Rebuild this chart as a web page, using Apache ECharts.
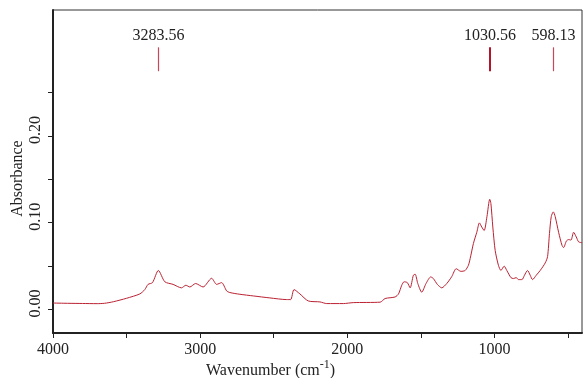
<!DOCTYPE html>
<html>
<head>
<meta charset="utf-8">
<script src="https://cdn.jsdelivr.net/npm/echarts@6/dist/echarts.min.js"></script>
<style>
html,body{margin:0;padding:0;background:#fff;}
#chart{width:583px;height:378px;}
</style>
</head>
<body>
<div id="chart"></div>
<script>
// Spectrum data (wavenumber in cm-1, absorbance)
var wavenumbers = [4000,3900,3800,3700,3650,3590,3500,3410,3376,3354,3324,3284,3240,3184,3127,3097,3070,3031,2980,2922,2888,2854,2820,2798,2730,2639,2526,2412,2385,2362,2322,2265,2186,2140,2027,1959,1777,1743,1675,1652,1630,1614,1592,1573,1551,1539,1521,1494,1465,1433,1415,1388,1358,1324,1290,1260,1228,1199,1177,1165,1143,1120,1102,1086,1070,1051,1032,1024,1011,995,973,956,934,916,888,871,852,837,813,796,775,757,741,716,689,655,639,626,614,600,587,564,541,530,511,496,480,462,444,428,405];
var absorbance = [0.0075,0.0072,0.0070,0.0068,0.0072,0.0090,0.0130,0.0180,0.023,0.029,0.031,0.045,0.032,0.029,0.025,0.028,0.026,0.030,0.026,0.036,0.029,0.031,0.0215,0.0196,0.0176,0.0157,0.0134,0.0115,0.0115,0.023,0.018,0.0099,0.0088,0.0069,0.0069,0.008,0.0085,0.0127,0.0145,0.018,0.028,0.032,0.031,0.025,0.0395,0.0407,0.030,0.020,0.030,0.0376,0.0357,0.029,0.025,0.030,0.038,0.047,0.044,0.045,0.051,0.0587,0.076,0.089,0.0998,0.095,0.091,0.107,0.127,0.122,0.095,0.068,0.051,0.045,0.050,0.045,0.0368,0.0357,0.0368,0.0345,0.0345,0.0395,0.045,0.0395,0.0345,0.0395,0.045,0.0537,0.061,0.0876,0.107,0.1125,0.107,0.089,0.074,0.0714,0.079,0.0806,0.080,0.089,0.0836,0.078,0.077];

// Peak annotations
var peakPositions = [3283.56, 1030.56, 598.13];
var peakLabels = ['3283.56', '1030.56', '598.13'];
var peakMarkBottom = 0.2745;
var peakMarkTop = 0.302;

// Axis ticks / labels
var xTickValues = [4000,3500,3000,2500,2000,1500,1000,500];
var xLabelValues = [4000,3000,2000,1000];
var yTickValues = [0,0.05,0.10,0.15,0.20,0.25];
var yLabelValues = [0,0.10,0.20];

var seriesData = wavenumbers.map(function (w, i) { return [w, absorbance[i]]; });

var FONT = 'Liberation Serif';
var lineColor = '#bb2233';

var markData = peakPositions.map(function (p, i) {
  return [
    {coord: [p, peakMarkBottom], lineStyle: {type: 'solid', width: i === 1 ? 2 : 1.2, color: i === 1 ? '#b3132b' : '#c8485a'}},
    {coord: [p, peakMarkTop], label: {formatter: peakLabels[i]}}
  ];
});

var chart = echarts.init(document.getElementById('chart'), null, {renderer: 'canvas'});
chart.setOption({
  animation: false,
  backgroundColor: '#fff',
  title: {
    text: '{a|Wavenumber (cm}{s|-1}{a|)}',
    left: 206,
    top: 359,
    padding: 0,
    textStyle: {
      fontWeight: 'normal',
      rich: {
        a: {fontFamily: FONT, fontSize: 16, fontWeight: 'normal', color: '#222', lineHeight: 20, verticalAlign: 'bottom'},
        s: {fontFamily: FONT, fontSize: 12, fontWeight: 'normal', color: '#222', lineHeight: 20, verticalAlign: 'top'}
      }
    }
  },
  grid: {
    left: 53, right: 1, top: 10, bottom: 45,
    outerBoundsMode: 'none',
    containLabel: false,
    show: true, borderColor: '#333', borderWidth: 1, backgroundColor: 'transparent'
  },
  xAxis: {
    type: 'value',
    min: 405, max: 4000,
    inverse: true,
    splitLine: {show: false},
    axisLine: {show: true, onZero: false, lineStyle: {color: '#222', width: 2}},
    axisTick: {show: true, length: 5, inside: false, customValues: xTickValues, lineStyle: {color: '#222', width: 1}},
    axisLabel: {show: true, customValues: xLabelValues, margin: 9, fontFamily: FONT, fontSize: 16, color: '#222',
      formatter: function (v) { return String(v); },
      showMinLabel: true, showMaxLabel: true, hideOverlap: false}
  },
  yAxis: {
    type: 'value',
    min: -0.027, max: 0.345,
    name: 'Absorbance',
    nameLocation: 'middle',
    nameRotate: 90,
    nameGap: 27,
    nameMoveOverlap: false,
    nameTextStyle: {fontFamily: FONT, fontSize: 16, color: '#222', padding: [0, 14, 0, 0]},
    splitLine: {show: false},
    axisLine: {show: true, onZero: false, lineStyle: {color: '#222', width: 2}},
    axisTick: {show: true, length: 5, inside: false, customValues: yTickValues, lineStyle: {color: '#222', width: 1}},
    axisLabel: {show: true, customValues: yLabelValues, rotate: 90, margin: 9, fontFamily: FONT, fontSize: 16, color: '#222',
      padding: [0, 0, 0, 12],
      formatter: function (v) { return v.toFixed(2); }, hideOverlap: false}
  },
  series: [{
    type: 'line',
    data: seriesData,
    showSymbol: false,
    symbol: 'none',
    smooth: 0.25,
    lineStyle: {color: lineColor, width: 1},
    silent: true,
    markLine: {
      silent: true,
      symbol: ['none', 'none'],
      animation: false,
      lineStyle: {type: 'solid'},
      label: {show: true, position: 'end', distance: 4, fontFamily: FONT, fontSize: 16, color: '#222'},
      data: markData
    }
  }]
});
</script>
</body>
</html>
